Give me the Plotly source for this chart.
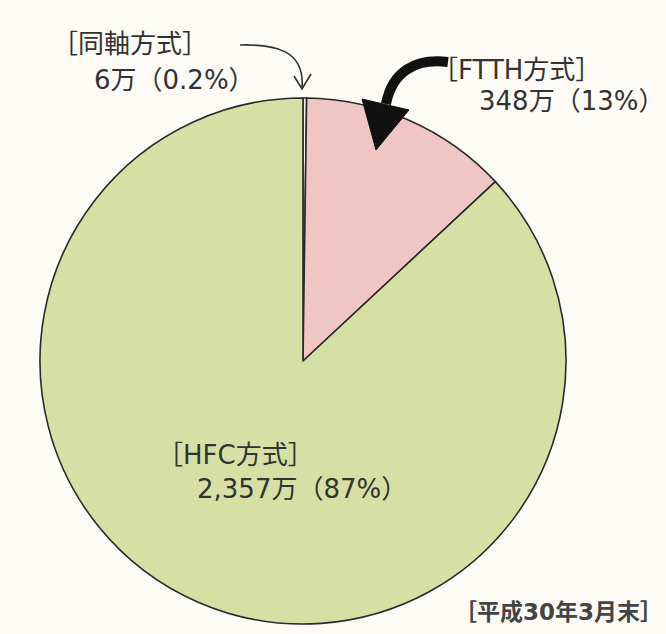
import plotly.graph_objects as go

# Data
categories = ["同軸方式", "FTTH方式", "HFC方式"]
values = [6, 348, 2357]          # 万
shares = ["0.2%", "13%", "87%"]
value_labels = ["6万", "348万", "2,357万"]
colors = ["#f4f1e6", "#f0c6c4", "#d6e0a5"]
footer = "［平成30年3月末］"

W, H = 666, 634

def px(x):
    return x / W

def py(y):
    return 1 - y / H

def path(points, close=False):
    s = ""
    for cmd, coords in points:
        parts = []
        for j in range(0, len(coords), 2):
            parts.append(f"{px(coords[j]):.5f},{py(coords[j+1]):.5f}")
        s += f"{cmd} " + " ".join(parts) + " "
    if close:
        s += "Z"
    return s

fig = go.Figure()
fig.add_trace(go.Pie(
    labels=categories,
    values=values,
    sort=False,
    direction="clockwise",
    rotation=0,
    marker=dict(colors=colors, line=dict(color="#2a2a2a", width=1.6)),
    textinfo="none",
    hoverinfo="label+value+percent",
    showlegend=False,
    domain=dict(x=[px(40), px(566)], y=[py(624), py(98)]),
))

font = dict(family="DejaVu Sans, Noto Sans CJK JP, sans-serif", size=26, color="#333333")
annos = [
    (f"［{categories[0]}］", 50, 44),
    (f"{value_labels[0]}（{shares[0]}）", 92, 80),
    (f"［{categories[1]}］", 430, 70),
    (f"{value_labels[1]}（{shares[1]}）", 477, 101),
    (f"［{categories[2]}］", 155, 455),
    (f"{value_labels[2]}（{shares[2]}）", 195, 489),
]
annotations = []
for text, x, y in annos:
    annotations.append(dict(
        text=text, x=px(x), y=py(y), xref="paper", yref="paper",
        xanchor="left", yanchor="middle", showarrow=False, font=font,
    ))
annotations.append(dict(
    text=f"<b>{footer}</b>", x=px(665), y=py(612), xref="paper", yref="paper",
    xanchor="right", yanchor="middle", showarrow=False,
    font=dict(family="DejaVu Sans, Noto Sans CJK JP, sans-serif", size=23, color="#444444"),
))

shapes = [
    # thin curved arrow for coaxial
    dict(type="path", xref="paper", yref="paper",
         path=path([("M", (240, 45)), ("C", (275, 44, 305, 50, 302, 88))]),
         line=dict(color="#333333", width=1.6)),
    dict(type="path", xref="paper", yref="paper",
         path=path([("M", (294, 76)), ("L", (302, 89)), ("L", (311, 74))]),
         line=dict(color="#333333", width=1.6)),
    # thick curved arrow for FTTH
    dict(type="path", xref="paper", yref="paper",
         path=path([("M", (448, 62)), ("C", (415, 58, 392, 72, 386, 104))]),
         line=dict(color="#111111", width=10)),
    dict(type="path", xref="paper", yref="paper",
         path=path([("M", (362, 99)), ("L", (409, 110)), ("L", (376, 150))], close=True),
         fillcolor="#111111", line=dict(color="#111111", width=1)),
]

fig.update_layout(
    width=W, height=H,
    margin=dict(l=0, r=0, t=0, b=0),
    paper_bgcolor="#fcfbf6",
    plot_bgcolor="#fcfbf6",
    annotations=annotations,
    shapes=shapes,
)

fig.write_html("out.html", config={"displayModeBar": False},
               post_script="document.body.style.margin='0';")
